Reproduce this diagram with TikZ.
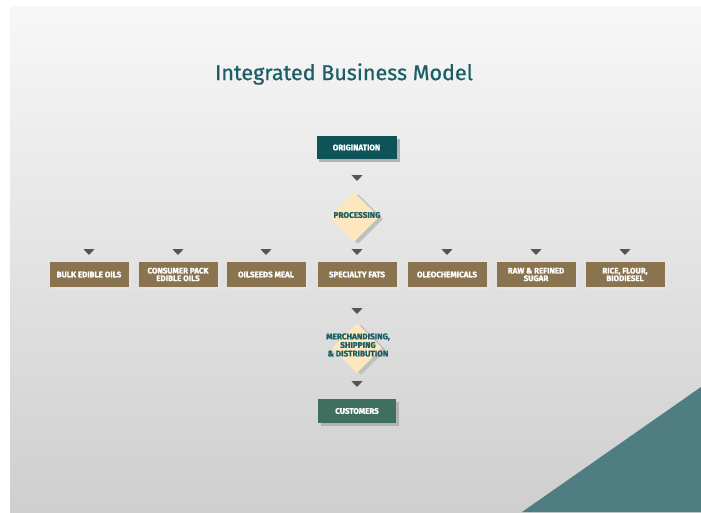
\documentclass[tikz,border=0pt]{standalone}
\usepackage{fontspec}
\setmainfont{Fira Sans}[BoldFeatures={FakeBold=1.2}]
\newfontfamily\titlefont{Fira Sans}[FakeBold=0.6]
\usetikzlibrary{shapes.geometric}
\definecolor{titleteal}{HTML}{1B5E65}
\definecolor{origin}{HTML}{0E5358}
\definecolor{custgreen}{HTML}{3F6F5E}
\definecolor{product}{HTML}{8A7450}
\definecolor{diamondfill}{HTML}{FDE7BF}
\definecolor{arrowgray}{HTML}{555555}
\definecolor{corner}{HTML}{4E7E82}
\tikzset{
  darkbox/.style={rectangle, minimum width=80pt, minimum height=23pt, inner sep=0pt,
    text=white, font=\fontsize{8}{8.5}\selectfont\bfseries, align=center},
  productbox/.style={rectangle, fill=product, minimum width=79pt, minimum height=25pt, inner sep=0pt,
    text=white, font=\fontsize{8}{7.6}\selectfont\bfseries, align=center},
  stage/.style={diamond, fill=diamondfill, minimum width=50pt, minimum height=50pt, inner sep=0pt},
  stagetext/.style={text=titleteal, font=\fontsize{8.2}{8.6}\selectfont\bfseries, align=center},
  pointer/.style={regular polygon, regular polygon sides=3, shape border rotate=180,
    fill=arrowgray, minimum size=13pt, inner sep=0pt, yscale=0.6},
}
\begin{document}
\begin{tikzpicture}[x=1pt,y=-1pt]
% page and slide background
\fill[white] (0,0) rectangle (701,512);
\useasboundingbox (0,0) rectangle (701,512);
\shade[top color=white!97!black, bottom color=white!81!black] (10,6) rectangle (701,512);
\fill[corner] (701,387) -- (701,512) -- (522,512) -- cycle;

% title
\node[text=titleteal, font=\fontsize{21.5}{24}\titlefont] (title) at (344,74) {Integrated Business Model};

% origination
\fill[black!30] (319,139) rectangle (400,162);
\node[darkbox, fill=origin] (orig) at (356.5,147.5) {ORIGINATION};
\node[pointer] (p1) at (357,177) {};

% processing
\node[stage, fill=black!25] (procsh) at (358,219) {};
\node[stage] (proc) at (354,217) {};
\node[stagetext] (proctext) at (357,215) {PROCESSING};

% product row
\foreach \x/\nm/\txt in {89/bulk/BULK EDIBLE OILS,
                          178/consumer/{CONSUMER PACK\\EDIBLE OILS},
                          266/meal/OILSEEDS MEAL,
                          357/fats/SPECIALTY FATS,
                          447/oleo/OLEOCHEMICALS,
                          536/sugar/{RAW \& REFINED\\SUGAR},
                          625/rice/{RICE, FLOUR,\\BIODIESEL}} {
  \fill[black!10] (\x-37,266) rectangle (\x+42,290);
  \node[productbox] (\nm) at (\x,274.5) {\txt};
  \node[pointer] (a\nm) at (\x,251) {};
}

\node[pointer] (p2) at (357,310) {};

% merchandising
\node[stage, fill=black!25] (merchsh) at (361,350) {};
\node[stage] (merch) at (357,348) {};
\node[stagetext] (merchtext) at (358,345) {MERCHANDISING,\\SHIPPING\\\& DISTRIBUTION};

\node[pointer] (p3) at (357,383) {};

% customers
\fill[black!30] (321,402) rectangle (399,426);
\node[darkbox, fill=custgreen, minimum width=78pt, minimum height=24pt] (cust) at (357,411) {CUSTOMERS};
\end{tikzpicture}
\end{document}
